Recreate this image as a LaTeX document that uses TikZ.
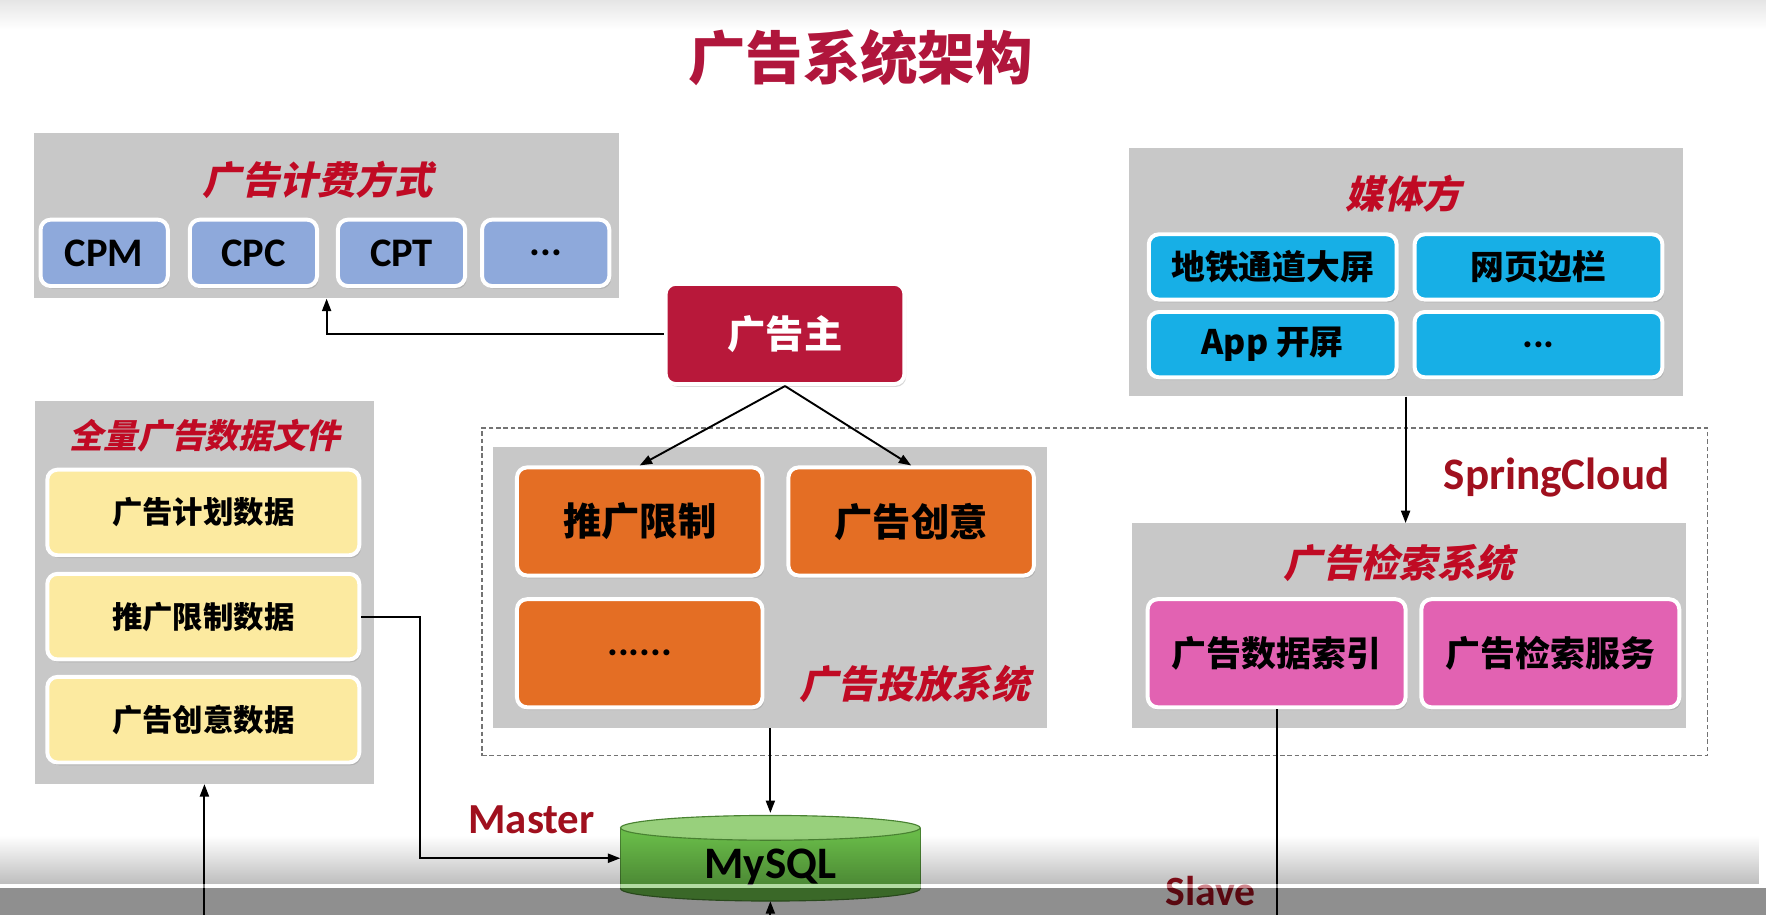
\documentclass[tikz,border=0pt]{standalone}
\usepackage{fontspec}
\setmainfont{Carlito}
\newfontfamily\cjk{Noto Sans CJK SC}
\newfontfamily\cjksl{Noto Sans CJK SC}[FakeSlant=0.22]
\usetikzlibrary{shadows,arrows.meta,fadings}
\definecolor{boxgray}{RGB}{200,200,200}
\definecolor{titlered}{RGB}{176,22,60}
\definecolor{itred}{RGB}{192,10,36}
\definecolor{darkred}{RGB}{160,16,30}
\definecolor{cpmblue}{RGB}{142,169,219}
\definecolor{mediablue}{RGB}{23,175,230}
\definecolor{advorange}{RGB}{228,110,36}
\definecolor{idxpink}{RGB}{226,98,178}
\definecolor{datayellow}{RGB}{252,234,160}
\definecolor{advcrimson}{RGB}{184,24,58}
\definecolor{dbgreen}{RGB}{104,186,72}
\definecolor{dbtop}{RGB}{152,208,124}
\newcommand{\myfs}[1]{\fontsize{#1}{#1}\selectfont}
\begin{document}
\begin{tikzpicture}[x=1pt,y=-1pt,
  graybox/.style={fill=boxgray, inner sep=0pt},
  item/.style={rounded corners=9pt, draw=white, line width=3.5pt, inner sep=0pt,
    drop shadow={shadow xshift=1.5pt, shadow yshift=-2.5pt, opacity=0.3}},
  cjkb/.style={font=\cjk\bfseries\myfs{#1}},
  latb/.style={font=\bfseries\myfs{#1}},
  ittitle/.style={font=\cjksl\bfseries\myfs{#1}, text=itred},
  redlabel/.style={font=\bfseries\myfs{#1}, text=darkred},
  arr/.style={line width=1.7pt, -{Triangle[length=11pt,width=8pt]}},
  frame/.style={draw=black!55, line width=1.1pt, dash pattern=on 4pt off 2.5pt, inner sep=0pt}
]
\useasboundingbox (0,0) rectangle (1568,812);
\fill[white] (0,0) rectangle (1568,812);
\begin{scope}
\clip (0,0) rectangle (1568,812);
\shade[top color=black!10, bottom color=white] (0,0) rectangle (1568,26);

% title
\node[cjkb=51, text=titlered] (title) at (764,51) {广告系统架构};

% billing
\node[graybox, minimum width=520, minimum height=147] (billing) at (290,191.5) {};
\node[ittitle=34] (billingT) at (282,160) {广告计费方式};
\node[item, fill=cpmblue, minimum width=113, minimum height=59, latb=36] (cpm) at (92.5,224.5) {CPM};
\node[item, fill=cpmblue, minimum width=113, minimum height=59, latb=36] (cpc) at (225,224.5) {CPC};
\node[item, fill=cpmblue, minimum width=113, minimum height=59, latb=36] (cpt) at (356.5,224.5) {CPT};
\node[item, fill=cpmblue, minimum width=113, minimum height=59, latb=36] (cpx) at (484.5,224.5) {...};

% advertiser
\node[item, fill=advcrimson, minimum width=212, minimum height=89, cjkb=34, text=white] (adv) at (697,296.5) {广告主};

% media
\node[graybox, minimum width=492, minimum height=221] (media) at (1248,241.5) {};
\node[ittitle=34] (mediaT) at (1246,172) {媒体方};
\node[item, fill=mediablue, minimum width=220, minimum height=58, cjkb=30] (m1) at (1130,237) {地铁通道大屏};
\node[item, fill=mediablue, minimum width=220, minimum height=58, cjkb=30] (m2) at (1366,237) {网页边栏};
\node[item, fill=mediablue, minimum width=220, minimum height=58, cjkb=30] (m3) at (1130,306) {App 开屏};
\node[item, fill=mediablue, minimum width=220, minimum height=58, latb=36] (m4) at (1366,306) {...};

% springcloud frame
\node[frame, minimum width=1088, minimum height=291] (cloud) at (972,525.5) {};
\node[redlabel=40] (cloudT) at (1382,424) {SpringCloud};

% delivery system
\node[graybox, minimum width=492, minimum height=250] (deliv) at (684,521.5) {};
\node[item, fill=advorange, minimum width=218, minimum height=96, cjkb=34] (d1) at (568,463) {推广限制};
\node[item, fill=advorange, minimum width=218, minimum height=96, cjkb=34] (d2) at (809,463) {广告创意};
\node[item, fill=advorange, minimum width=218, minimum height=96, latb=36] (d3) at (568,580) {......};
\node[ittitle=34] (delivT) at (812,607) {广告投放系统};

% retrieval system
\node[graybox, minimum width=492, minimum height=182] (retr) at (1251,555.6) {};
\node[ittitle=34] (retrT) at (1242,500) {广告检索系统};
\node[item, fill=idxpink, minimum width=229, minimum height=96, cjkb=31] (r1) at (1133.5,580) {广告数据索引};
\node[item, fill=idxpink, minimum width=229, minimum height=96, cjkb=31] (r2) at (1376.5,580) {广告检索服务};

% full data files
\node[graybox, minimum width=301, minimum height=340] (full) at (181.5,526) {};
\node[ittitle=30] (fullT) at (182,387) {全量广告数据文件};
\node[item, fill=datayellow, minimum width=277, minimum height=76, cjkb=27] (f1) at (180.5,455) {广告计划数据};
\node[item, fill=datayellow, minimum width=277, minimum height=76, cjkb=27] (f2) at (180.5,547.5) {推广限制数据};
\node[item, fill=datayellow, minimum width=277, minimum height=76, cjkb=27] (f3) at (180.5,639) {广告创意数据};

% MySQL
\node[minimum width=266, minimum height=78, inner sep=0pt] (mysql) at (684,761) {};
\filldraw[fill=dbgreen, draw=dbgreen!70!black, line width=1pt] (684,789) ellipse [x radius=133pt, y radius=11pt];
\fill[dbgreen] (551,735) rectangle (817,789);
\draw[dbgreen!70!black, line width=1pt] (551,735) -- (551,789) (817,735) -- (817,789);
\filldraw[fill=dbtop, draw=dbgreen!70!black, line width=1pt] (684,735) ellipse [x radius=133pt, y radius=11pt];
\node[latb=40] (mysqlT) at (684,770) {MySQL};

\node[redlabel=38] (master) at (472,728) {Master};
\node[redlabel=37] (slave) at (1075,791) {Slave};

% connectors
\coordinate (fullin) at (181.5,840);
\coordinate (dbin) at (684,840);
\coordinate (slaveend) at (1133.5,840);
\draw[arr] (adv.west) -| (billing.south);
\draw[arr] (adv.south) -- (d1.north);
\draw[arr] (adv.south) -- (d2.north);
\draw[arr] (media.south) -- (media.south |- retr.north);
\draw[arr] (deliv.south) -- (mysql.north);
\draw[arr] (f2.east) -- ++(52,0) |- ([yshift=-1pt]mysql.west);
\draw[arr] (fullin) -- (full.south);
\draw[arr] (dbin) -- (mysql.south);
\draw[line width=1.7pt] (r1.south) -- (slaveend);

% video overlay at bottom
\fill[black, path fading=north, opacity=0.26] (0,742) rectangle (1568,785);
\fill[white, opacity=0.5] (0,785) rectangle (1568,788);
\fill[black, opacity=0.44] (0,788) rectangle (1568,812);
\end{scope}
\end{tikzpicture}
\end{document}
